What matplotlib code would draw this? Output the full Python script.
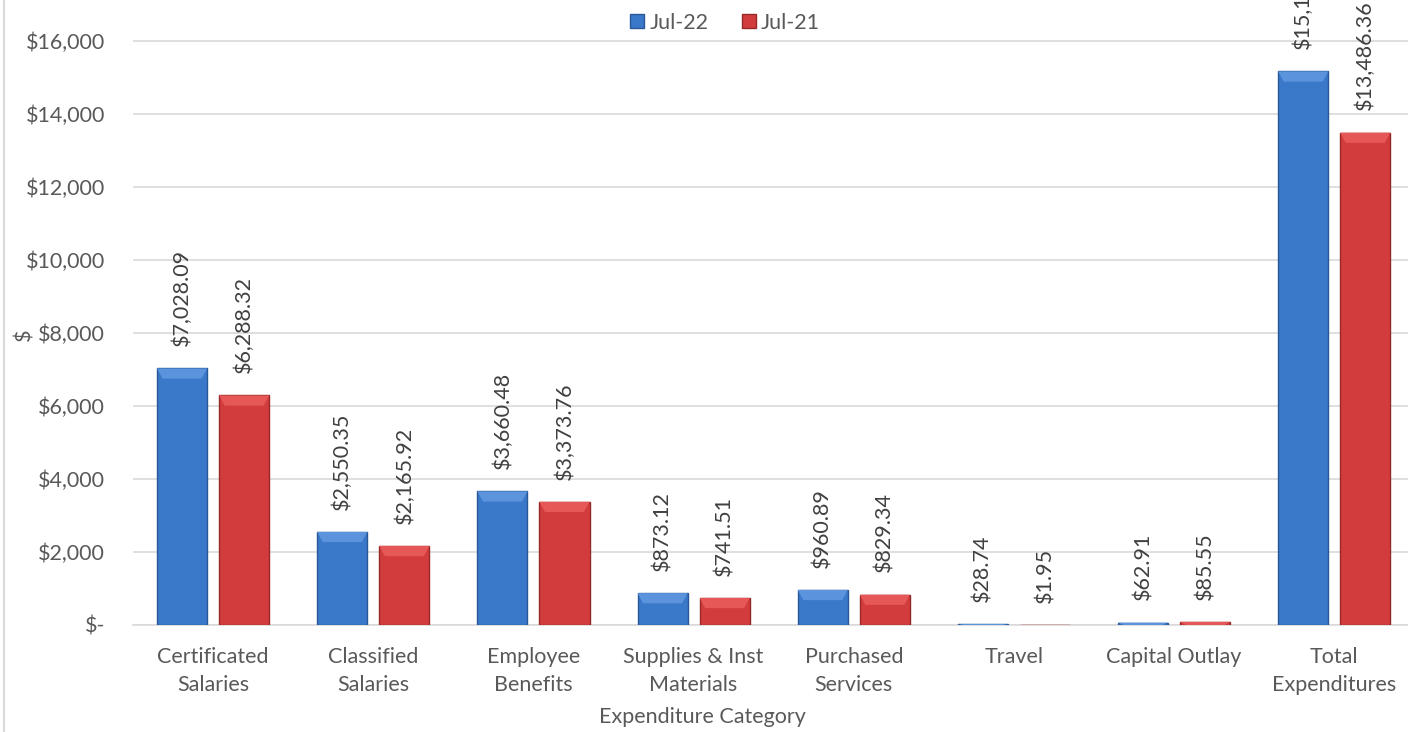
import numpy as np
import matplotlib.pyplot as plt
from matplotlib.lines import Line2D
from matplotlib.patches import Polygon

# data
categories = ['Certificated\nSalaries', 'Classified\nSalaries', 'Employee\nBenefits',
              'Supplies & Inst\nMaterials', 'Purchased\nServices', 'Travel',
              'Capital Outlay', 'Total\nExpenditures']
jul22 = [7028.09, 2550.35, 3660.48, 873.12, 960.89, 28.74, 62.91, 15164.58]
jul21 = [6288.32, 2165.92, 3373.76, 741.51, 829.34, 1.95, 85.55, 13486.36]
yticks = [0, 2000, 4000, 6000, 8000, 10000, 12000, 14000, 16000]
ytick_labels = ['$-', '$2,000', '$4,000', '$6,000', '$8,000', '$10,000',
                '$12,000', '$14,000', '$16,000']

plt.rcParams['font.family'] = ['Lato', 'DejaVu Sans']
txt = '#595959'
fs = 15.5

fig = plt.figure(figsize=(14.08, 7.32), dpi=100)
ax = fig.add_axes([0.0945, 0.1462, 0.910, 0.8538])

x = np.arange(len(categories))
w = 0.3125
gap = 0.075
off = (w + gap) / 2

b1 = ax.bar(x - off, jul22, w, color='#3A78C9', edgecolor='#2A5896', linewidth=1, label='Jul-22', zorder=3)
b2 = ax.bar(x + off, jul21, w, color='#D33C3C', edgecolor='#972828', linewidth=1, label='Jul-21', zorder=3)

# bevel on bar tops (lighter trapezoid)
for bars, c in [(b1, '#5B94DD'), (b2, '#E65858')]:
    for r in bars:
        h = r.get_height()
        s = min(h, 280)
        x0 = r.get_x()
        x1 = x0 + r.get_width()
        d = min(0.035, r.get_width() / 2)
        ax.add_patch(Polygon([(x0, h), (x1, h), (x1 - d, h - s), (x0 + d, h - s)],
                             closed=True, color=c, linewidth=0, zorder=4))

for vals, xs in [(jul22, x - off), (jul21, x + off)]:
    for xi, v in zip(xs, vals):
        ax.annotate('${:,.2f}'.format(v), (xi, v), xytext=(0, 16), textcoords='offset points',
                    rotation=90, ha='center', va='bottom', fontsize=fs, color='#404040',
                    annotation_clip=False, zorder=5)

ax.set_xlim(-0.5, len(categories) - 0.5)
ax.set_ylim(0, 17120)
ax.set_yticks(yticks)
ax.set_yticklabels(ytick_labels)
ax.set_xticks(x)
ax.set_xticklabels(categories, va='top', linespacing=1.5)
ax.tick_params(axis='both', length=0, labelsize=fs, colors=txt)
ax.tick_params(axis='y', pad=20)
ax.tick_params(axis='x', pad=16)
ax.grid(axis='y', color='#D9D9D9', linewidth=1.2, zorder=0)
for sp in ['top', 'right', 'left']:
    ax.spines[sp].set_visible(False)
ax.spines['bottom'].set_color('#D9D9D9')
ax.spines['bottom'].set_linewidth(1.2)

ax.set_xlabel('Expenditure Category', fontsize=fs, color=txt)
ax.xaxis.set_label_coords(0.444, -0.131)
ax.set_ylabel('$', fontsize=fs, color=txt, rotation=90)
ax.yaxis.set_label_coords(-0.077, 0.464)

fig.legend(handles=[b1, b2], loc='center', bbox_to_anchor=(0.515, 0.969), ncol=2, frameon=False,
           fontsize=fs, labelcolor=txt, handlelength=0.65, handleheight=0.65,
           handletextpad=0.25, columnspacing=1.55)

fig.add_artist(Line2D([0.0025, 0.0025], [0, 1], transform=fig.transFigure, color='#D9D9D9', linewidth=1.5))

plt.savefig('out.png', dpi=100)
